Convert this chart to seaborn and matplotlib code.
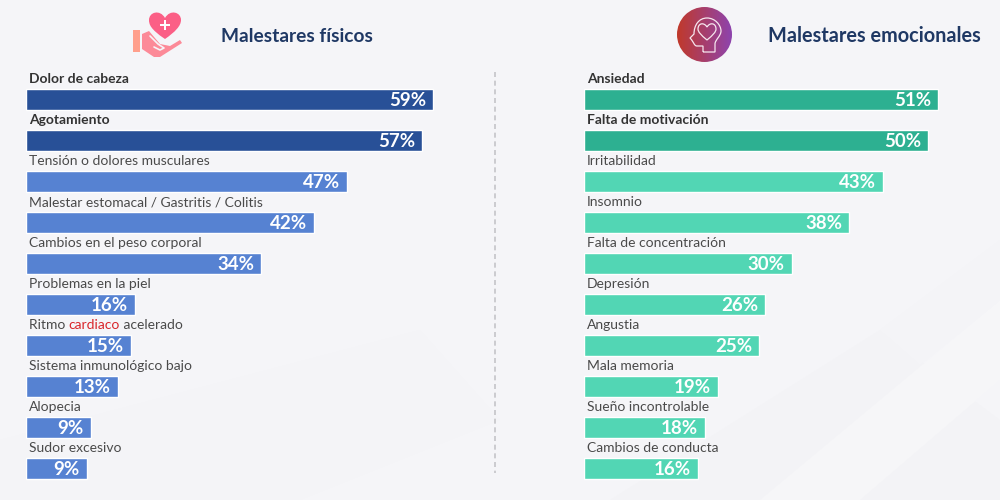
import numpy as np
import pandas as pd
import seaborn as sns
import matplotlib.pyplot as plt
from matplotlib.path import Path
from matplotlib.patches import PathPatch, Circle, Rectangle, Polygon

# bar lengths, labels are the printed percentages
fisicos = ['Dolor de cabeza', 'Agotamiento', 'Tensión o dolores musculares',
           'Malestar estomacal / Gastritis / Colitis', 'Cambios en el peso corporal',
           'Problemas en la piel', 'Ritmo cardiaco acelerado', 'Sistema inmunológico bajo',
           'Alopecia', 'Sudor excesivo']
fisicos_val = [59.0, 57.4, 46.5, 41.7, 34.1, 15.8, 15.2, 13.3, 9.4, 8.8]
fisicos_lab = [59, 57, 47, 42, 34, 16, 15, 13, 9, 9]

emocionales = ['Ansiedad', 'Falta de motivación', 'Irritabilidad', 'Insomnio',
               'Falta de concentración', 'Depresión', 'Angustia', 'Mala memoria',
               'Sueño incontrolable', 'Cambios de conducta']
emocionales_val = [51.3, 49.9, 43.3, 38.4, 30.1, 26.2, 25.4, 19.4, 17.5, 16.5]
emocionales_lab = [51, 50, 43, 38, 30, 26, 25, 19, 18, 16]

BG = '#F5F5F8'
FONT = ['Lato', 'DejaVu Sans']
TEXT = '#4A4A4A'
FS_NAME = 10

sns.set_theme(style='white')
plt.rcParams['font.family'] = FONT

fig = plt.figure(figsize=(10, 5), dpi=100, facecolor=BG)

# pixel layer for background, icons and titles
bg = fig.add_axes([0, 0, 1, 1], zorder=0)
bg.set_xlim(0, 1000)
bg.set_ylim(500, 0)
bg.axis('off')

# faint folds in the background
for pts, c in [([(610, 500), (880, 330), (1000, 420), (1000, 500)], '#F3F3F6'),
               ([(760, 500), (1000, 300), (1000, 380), (860, 500)], '#F6F6F8'),
               ([(0, 500), (0, 440), (420, 330), (500, 420), (300, 500)], '#F4F4F7'),
               ([(880, 330), (1000, 240), (1000, 300), (920, 365)], '#F4F4F7')]:
    bg.add_patch(Polygon(pts, closed=True, fc=c, ec='none'))


def draw_panel(x0, names, vals, labs, dark, light):
    # 6.9 px per percentage point, one category every 41 px
    ax = fig.add_axes([x0 / 1000, 1 - 488.8 / 500, 410 / 1000, 410 / 500], zorder=2)
    ax.patch.set_alpha(0)
    df = pd.DataFrame({'name': names, 'val': vals})
    palette = [dark if i < 2 else light for i in range(len(names))]
    sns.barplot(data=df, x='val', y='name', hue='name', palette=palette, legend=False,
                width=0.51, saturation=1, ax=ax)
    ax.set_xlim(0, 410 / 6.9)
    ax.set_ylim(9.5, -0.5)
    ax.axis('off')
    for i, (name, v, lab) in enumerate(zip(names, vals, labs)):
        if name == 'Ritmo cardiaco acelerado':
            t = ax.text(0.4, i - 0.34, 'Ritmo ', fontsize=FS_NAME, color=TEXT, va='bottom', clip_on=False)
            t = ax.annotate('cardiaco', xy=(1, 0), xycoords=t, fontsize=FS_NAME,
                            color='#D9262B', va='bottom', ha='left')
            ax.annotate(' acelerado', xy=(1, 0), xycoords=t, fontsize=FS_NAME,
                        color=TEXT, va='bottom', ha='left')
        else:
            bold = i < 2
            ax.text(0.4, i - 0.34, name, fontsize=FS_NAME, color='#333333' if bold else TEXT,
                    fontweight='bold' if bold else 'normal', va='bottom', clip_on=False)
        ax.text(v - 1.0, i + 0.03, f'{lab}%', color='white', fontsize=13.5, fontweight='bold',
                ha='right', va='center')
    return ax


draw_panel(26, fisicos, fisicos_val, fisicos_lab, '#285097', '#5682D2')
draw_panel(584, emocionales, emocionales_val, emocionales_lab, '#2DB091', '#52D6B4')

# divider
bg.plot([495, 495], [72, 473], color='#C4C4C8', lw=1.2, ls=(0, (3, 2.2)))

# titles
bg.text(221, 36, 'Malestares físicos', fontsize=13.8, fontweight='bold', color='#1F3864',
        va='center', ha='left')
bg.text(768, 36, 'Malestares emocionales', fontsize=14.3, fontweight='bold', color='#1F3864',
        va='center', ha='left')

# hand + heart icon
M, L, C, Z = Path.MOVETO, Path.LINETO, Path.CURVE4, Path.CLOSEPOLY
heart = Path([(165, 39), (150, 29), (149, 24), (149, 20), (149, 12), (160, 9), (165, 18),
              (170, 9), (181, 12), (181, 20), (181, 26), (175, 32), (165, 39), (165, 39)],
             [M, C, C, C, C, C, C, C, C, C, C, C, C, Z])
bg.add_patch(PathPatch(heart, fc='#FB5F86', ec='none'))
bg.add_patch(Rectangle((164, 20), 2, 10, fc='white', ec='none'))
bg.add_patch(Rectangle((160, 24), 10, 2, fc='white', ec='none'))
bg.add_patch(Rectangle((133, 30), 7, 22, fc='#FF9F8C', ec='none'))
hand = Polygon([(142, 34), (149, 31), (160, 44), (170, 46), (180, 40), (182, 43), (160, 57),
                (154, 57), (142, 49)], closed=True, fc='#FC8A98', ec='none')
bg.add_patch(hand)
bg.plot([150, 158, 164, 160, 154], [36, 44, 48, 50, 47], color=BG, lw=1.2)

# head icon, circle with red-to-purple gradient
grad = np.linspace(0, 1, 64).reshape(1, -1)
cmap = plt.matplotlib.colors.LinearSegmentedColormap.from_list('g', ['#C0392B', '#8E44AD'])
im = bg.imshow(grad, extent=(677, 732, 62, 7), cmap=cmap, aspect='auto', zorder=2)
im.set_clip_path(Circle((704.5, 34.5), 27.5, transform=bg.transData))
bg.set_xlim(0, 1000)
bg.set_ylim(500, 0)
head = Path([(703, 52), (703, 46), (697, 46), (694, 46), (694, 42), (690, 38), (694, 34),
             (694, 25), (699, 18), (707, 18), (715, 18), (721, 25), (721, 31), (721, 36),
             (715, 40), (715, 44), (715, 52), (703, 52)],
            [M, L, L, C, C, L, L, C, C, C, C, C, C, C, C, C, L, L])
bg.add_patch(PathPatch(head, fc='none', ec='#F6E6EE', lw=0.9, zorder=3))
heart2 = Path([(707, 40), (701, 35), (698, 32), (698, 29), (698, 23), (704, 22), (707, 27),
               (710, 22), (716, 23), (716, 29), (716, 32), (713, 35), (707, 40), (707, 40)],
              [M, C, C, C, C, C, C, C, C, C, C, C, C, Z])
bg.add_patch(PathPatch(heart2, fc='none', ec='#F6E6EE', lw=0.9, zorder=3))

fig.savefig('out.png', dpi=100, facecolor=BG)
